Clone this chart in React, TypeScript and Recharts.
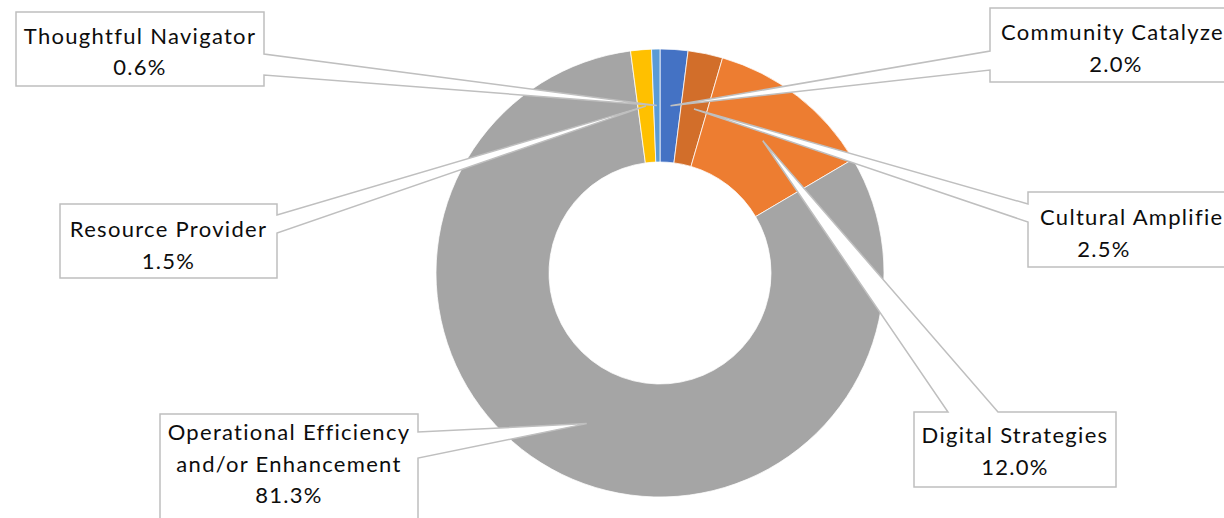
import React from "react";
import { PieChart, Pie, Cell } from "recharts";

const categories = [
  "Community Catalyzer",
  "Cultural Amplifier",
  "Digital Strategies",
  "Operational Efficiency\nand/or Enhancement",
  "Resource Provider",
  "Thoughtful Navigator",
];
const values = [2.0, 2.5, 12.0, 81.3, 1.5, 0.6];
const colors = ["#4472C4", "#D26E2A", "#ED7D31", "#A5A5A5", "#FFC000", "#5B9BD5"];

// callout layout (box geometry, leader base points, text placement)
const callouts = [
  { x: 990, y: 8, w: 252, h: 74, side: "left", b1: 51, b2: 70, tx: 1116, base: 40, start: 1001 },
  { x: 1028, y: 192, w: 230, h: 75, side: "left", b1: 204, b2: 222, tx: 1104, base: 225, start: 1040 },
  { x: 914, y: 412, w: 202, h: 75, side: "top", b1: 948, b2: 998, tx: 1015, base: 443 },
  { x: 160, y: 414, w: 258, h: 120, side: "right", b1: 432, b2: 458, tx: 289, base: 440 },
  { x: 60, y: 204, w: 217, h: 74, side: "right", b1: 215, b2: 233, tx: 168.5, base: 237 },
  { x: 16, y: 12, w: 248, h: 74, side: "right", b1: 54, b2: 75, tx: 140, base: 43.5 },
];

const data = categories.map((name, i) => ({ name, value: values[i] }));

const RAD = Math.PI / 180;
const LINE_GAP = 31.5;

const renderLabel = (props: any) => {
  const { cx, cy, innerRadius, outerRadius, midAngle, index } = props;
  const c = callouts[index];
  const r = (innerRadius + outerRadius) / 2;
  const tipX = cx + r * Math.cos(-midAngle * RAD);
  const tipY = cy + r * Math.sin(-midAngle * RAD);
  const { x, y, w, h, b1, b2 } = c;
  let pts: number[][] = [];
  if (c.side === "top") {
    pts = [[x, y], [b1, y], [tipX, tipY], [b2, y], [x + w, y], [x + w, y + h], [x, y + h]];
  } else if (c.side === "right") {
    pts = [[x, y], [x + w, y], [x + w, b1], [tipX, tipY], [x + w, b2], [x + w, y + h], [x, y + h]];
  } else {
    pts = [[x, y], [x + w, y], [x + w, y + h], [x, y + h], [x, b2], [tipX, tipY], [x, b1]];
  }
  const lines = [...String(categories[index]).split("\n"), `${values[index].toFixed(1)}%`];
  return (
    <g key={`callout-${index}`}>
      <polygon
        points={pts.map((p) => p.join(",")).join(" ")}
        fill="#FFFFFF"
        stroke="#BFBFBF"
        strokeWidth={1.5}
        strokeLinejoin="miter"
      />
      {lines.map((ln, li) => {
        const useStart = li === 0 && c.start !== undefined;
        return (
          <text
            key={li}
            x={useStart ? c.start : c.tx}
            y={c.base + li * LINE_GAP}
            textAnchor={useStart ? "start" : "middle"}
            fontFamily="Lato, 'Noto Sans', sans-serif"
            fontSize={22}
            letterSpacing={1.3}
            fill="#0D0D0D"
          >
            {ln}
          </text>
        );
      })}
    </g>
  );
};

export default function App() {
  return (
    <div style={{ position: "absolute", left: 0, top: 0, width: 1224, height: 518, background: "#fff" }}>
      <PieChart width={1224} height={518} margin={{ top: 0, right: 0, bottom: 0, left: 0 }}>
        <Pie
          data={data}
          dataKey="value"
          nameKey="name"
          cx={660}
          cy={273}
          innerRadius={111}
          outerRadius={224}
          startAngle={90}
          endAngle={-270}
          stroke="#FFFFFF"
          strokeWidth={0.75}
          label={renderLabel}
          labelLine={false}
          isAnimationActive={false}
        >
          {data.map((d, i) => (
            <Cell key={d.name} fill={colors[i]} />
          ))}
        </Pie>
      </PieChart>
    </div>
  );
}
